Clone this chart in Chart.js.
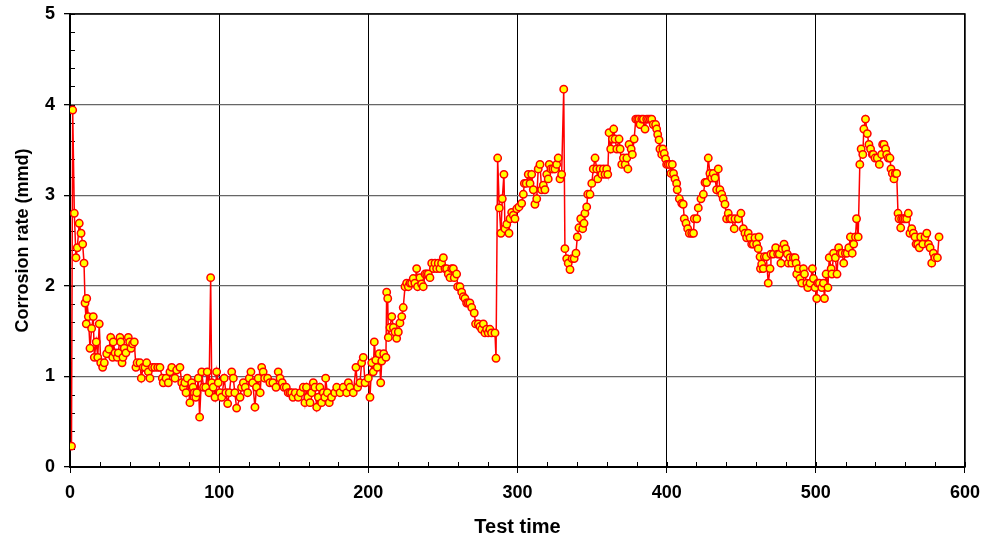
<!DOCTYPE html>
<html>
<head>
<meta charset="utf-8">
<script src="https://cdn.jsdelivr.net/npm/chart.js@4/dist/chart.umd.min.js"></script>
<style>
    html, body { margin: 0; padding: 0; background: #fff; }
    #wrap { width: 989px; height: 544px; }
</style>
</head>
<body>
<div id="wrap"><canvas id="corrosion-chart" width="989" height="544"></canvas></div>
<script>
// test time (x) and corrosion rate (y)
var testTime = [
    1.0, 1.8, 2.9, 4.0, 4.9, 6.2, 7.4, 8.5, 9.4, 10.1, 10.9, 11.2, 12.3, 13.4, 14.5, 15.6, 16.3, 17.6, 18.6, 19.6,
    20.6, 21.9, 23.0, 24.6, 26.1, 27.3, 28.6, 29.0, 30.2, 31.7, 32.4, 33.5, 34.0, 34.9, 35.5, 36.4, 37.5, 39.1, 40.0, 40.9,
    42.0, 43.1, 44.2, 45.0, 46.9, 47.8, 49.0, 50.3, 51.4, 52.5, 53.6, 55.2, 56.8, 58.8, 60.3, 61.9, 62.5, 64.4, 65.9, 67.0,
    68.2, 70.4, 71.5, 73.7, 74.9, 76.0, 77.0, 77.8, 78.6, 80.4, 81.6, 82.5, 83.3, 84.3, 85.0, 86.0, 86.9, 88.3, 89.5, 91.0,
    92.0, 93.2, 94.3, 95.0, 96.0, 97.2, 98.3, 99.4, 100.5, 101.7, 103.4, 104.5, 105.7, 106.8, 108.4, 109.5, 110.5, 111.7, 114.0, 115.0,
    116.2, 117.5, 119.1, 120.2, 121.3, 122.5, 124.0, 125.0, 126.2, 127.5, 128.5, 129.5, 130.5, 132.5, 134.0, 136.0, 138.1, 139.6, 140.8, 142.3,
    143.5, 145.0, 146.3, 147.5, 148.6, 149.5, 151.0, 153.0, 154.5, 156.4, 157.5, 158.5, 159.5, 160.9, 162.0, 163.1, 164.2, 165.4, 166.5, 167.5,
    168.7, 169.8, 170.8, 171.4, 172.5, 173.8, 175.3, 177.5, 178.8, 181.0, 183.2, 185.5, 186.6, 187.7, 189.9, 191.7, 192.8, 194.4, 195.5, 196.6,
    197.8, 200.0, 201.1, 202.3, 203.3, 204.0, 205.0, 206.0, 207.3, 208.3, 209.0, 210.3, 211.8, 212.3, 213.0, 213.4, 214.5, 215.7, 216.8, 217.9,
    219.0, 220.1, 221.2, 222.4, 223.4, 224.6, 225.7, 226.8, 227.9, 229.0, 230.1, 231.2, 232.4, 233.0, 234.6, 235.7, 236.8, 238.0, 239.1, 240.2,
    241.3, 242.5, 243.6, 244.7, 245.8, 246.9, 248.0, 249.1, 250.3, 251.4, 252.5, 253.6, 254.8, 255.9, 257.0, 257.6, 259.2, 259.9, 261.4, 262.6,
    263.7, 264.8, 265.9, 267.0, 268.1, 269.3, 271.0, 271.9, 273.7, 274.8, 276.0, 277.1, 278.2, 279.3, 280.4, 281.5, 282.6, 284.9, 285.6, 286.7,
    287.8, 288.9, 289.8, 290.9, 291.6, 292.8, 294.3, 295.0, 296.1, 297.2, 298.3, 299.5, 301.0, 302.8, 303.9, 304.6, 305.8, 307.2, 308.4, 309.5,
    310.6, 311.7, 312.9, 313.9, 315.1, 316.2, 317.3, 318.4, 319.6, 320.6, 321.3, 322.4, 323.7, 325.1, 326.3, 327.3, 328.5, 329.6, 331.0, 331.8,
    333.0, 334.0, 335.2, 336.6, 338.0, 339.2, 340.1, 341.2, 342.4, 343.7, 344.6, 345.2, 346.4, 347.1, 348.6, 349.8, 350.8, 352.0, 353.1, 353.8,
    355.3, 356.5, 357.6, 358.7, 359.8, 360.5, 361.4, 362.5, 363.6, 364.5, 365.4, 366.6, 368.1, 368.8, 369.9, 371.0, 372.2, 373.3, 374.0, 374.8,
    376.2, 377.0, 378.2, 379.3, 380.5, 381.5, 382.2, 383.3, 384.4, 385.5, 386.6, 387.8, 389.0, 390.0, 391.0, 392.6, 393.3, 394.0, 394.9, 395.5,
    396.7, 397.5, 398.4, 399.3, 400.0, 401.1, 402.2, 402.9, 403.8, 404.6, 405.6, 406.7, 407.1, 408.5, 410.1, 411.1, 411.8, 413.0, 414.1, 415.2,
    416.8, 418.0, 418.5, 420.2, 421.2, 423.0, 424.6, 425.7, 426.8, 427.9, 429.0, 430.2, 431.2, 432.4, 433.5, 434.6, 435.7, 436.9, 437.9, 439.1,
    440.2, 441.3, 442.4, 443.5, 445.3, 445.8, 448.0, 449.8, 451.4, 452.5, 453.6, 454.7, 455.9, 457.0, 458.1, 459.2, 460.3, 461.4, 461.9, 462.6,
    462.9, 463.7, 464.8, 465.5, 466.8, 468.1, 469.3, 469.9, 471.5, 473.1, 474.4, 475.5, 476.6, 477.5, 478.7, 479.8, 480.9, 481.6, 482.7, 483.9,
    484.9, 486.1, 486.8, 487.2, 488.3, 489.4, 490.6, 491.7, 492.4, 494.0, 494.6, 496.1, 497.7, 498.4, 499.5, 500.6, 501.3, 502.4, 504.0, 505.1,
    505.8, 506.9, 508.1, 509.0, 510.3, 510.8, 511.9, 513.1, 514.2, 515.3, 516.5, 517.6, 518.7, 519.8, 521.0, 522.1, 523.2, 524.4, 525.4, 526.6,
    527.3, 528.4, 529.5, 530.4, 531.5, 532.2, 533.3, 534.5, 535.6, 536.7, 537.9, 538.5, 539.7, 541.2, 542.6, 544.1, 544.8, 545.7, 546.8, 547.5,
    548.6, 549.7, 550.4, 551.3, 552.4, 553.3, 554.2, 555.1, 555.8, 556.9, 557.5, 558.6, 559.7, 560.9, 562.0, 563.1, 564.3, 565.4, 566.5, 567.2,
    568.3, 569.4, 570.3, 571.7, 573.2, 574.4, 575.5, 576.6, 577.7, 578.8, 579.9, 581.5, 582.6
];
var corrosionRate = [
    0.23, 3.94, 2.80, 2.31, 2.42, 2.69, 2.58, 2.46, 2.25, 1.81, 1.58, 1.86, 1.66, 1.31, 1.53, 1.66, 1.21, 1.38, 1.21, 1.58,
    1.15, 1.10, 1.15, 1.25, 1.30, 1.43, 1.21, 1.38, 1.26, 1.21, 1.26, 1.43, 1.38, 1.15, 1.21, 1.31, 1.26, 1.43, 1.38, 1.31,
    1.36, 1.38, 1.10, 1.15, 1.15, 0.98, 1.10, 1.10, 1.15, 1.05, 0.98, 1.10, 1.10, 1.10, 1.10, 0.98, 0.93, 0.98, 0.93, 1.05,
    1.10, 0.98, 1.07, 1.10, 0.93, 0.88, 0.93, 0.82, 0.98, 0.71, 0.93, 0.88, 0.82, 0.77, 0.82, 0.98, 0.55, 1.05, 0.88, 0.88,
    1.05, 0.82, 2.09, 0.93, 0.88, 0.77, 1.05, 0.93, 0.82, 0.77, 0.98, 0.82, 0.70, 0.82, 1.05, 0.98, 0.82, 0.65, 0.77, 0.88,
    0.93, 0.88, 0.82, 0.98, 1.05, 0.93, 0.66, 0.88, 0.98, 0.82, 1.10, 1.05, 0.98, 0.98, 0.93, 0.93, 0.88, 1.05, 0.98, 0.93,
    0.88, 0.88, 0.82, 0.82, 0.82, 0.77, 0.82, 0.77, 0.82, 0.88, 0.71, 0.88, 0.77, 0.71, 0.82, 0.93, 0.88, 0.66, 0.77, 0.88,
    0.71, 0.82, 0.77, 0.98, 0.82, 0.71, 0.77, 0.82, 0.88, 0.82, 0.88, 0.82, 0.93, 0.88, 0.82, 1.10, 0.88, 0.93, 1.15, 1.21,
    0.93, 0.98, 0.77, 1.15, 1.05, 1.38, 1.18, 1.10, 1.25, 0.93, 1.17, 1.25, 1.21, 1.93, 1.86, 1.43, 1.54, 1.66, 1.54, 1.49,
    1.42, 1.49, 1.59, 1.66, 1.76, 1.99, 2.03, 1.99, 2.03, 2.03, 2.08, 2.03, 2.19, 1.99, 2.09, 2.02, 1.99, 2.13, 2.13, 2.13,
    2.09, 2.25, 2.19, 2.25, 2.19, 2.25, 2.19, 2.25, 2.31, 2.19, 2.19, 2.13, 2.09, 2.19, 2.19, 2.09, 2.13, 1.99, 1.99, 1.93,
    1.88, 1.86, 1.81, 1.81, 1.81, 1.76, 1.70, 1.58, 1.58, 1.55, 1.52, 1.58, 1.48, 1.52, 1.48, 1.52, 1.48, 1.48, 1.20, 3.41,
    2.86, 2.58, 2.96, 3.23, 2.63, 2.68, 2.58, 2.74, 2.81, 2.78, 2.74, 2.85, 2.87, 2.91, 3.01, 3.13, 3.13, 3.23, 3.13, 3.23,
    3.06, 2.90, 2.96, 3.29, 3.34, 3.06, 3.11, 3.06, 3.23, 3.18, 3.34, 3.29, 3.29, 3.29, 3.34, 3.41, 3.18, 3.23, 4.17, 2.41,
    2.30, 2.25, 2.18, 2.30, 2.30, 2.36, 2.54, 2.64, 2.74, 2.63, 2.69, 2.80, 2.87, 3.01, 3.01, 3.13, 3.29, 3.41, 3.29, 3.18,
    3.29, 3.23, 3.29, 3.23, 3.29, 3.23, 3.69, 3.51, 3.62, 3.73, 3.62, 3.51, 3.62, 3.51, 3.34, 3.41, 3.34, 3.41, 3.29, 3.56,
    3.51, 3.45, 3.62, 3.84, 3.84, 3.84, 3.78, 3.84, 3.84, 3.73, 3.84, 3.84, 3.84, 3.84, 3.78, 3.78, 3.73, 3.67, 3.61, 3.51,
    3.45, 3.51, 3.46, 3.40, 3.34, 3.34, 3.34, 3.24, 3.34, 3.24, 3.18, 3.13, 3.06, 2.96, 2.91, 2.90, 2.74, 2.69, 2.63, 2.58,
    2.58, 2.58, 2.74, 2.74, 2.86, 2.96, 3.01, 3.14, 3.14, 3.41, 3.24, 3.19, 3.24, 3.19, 3.06, 3.29, 3.06, 3.01, 2.96, 2.90,
    2.74, 2.80, 2.74, 2.74, 2.63, 2.74, 2.74, 2.80, 2.63, 2.58, 2.53, 2.58, 2.53, 2.46, 2.46, 2.53, 2.46, 2.41, 2.54, 2.32,
    2.19, 2.24, 2.19, 2.32, 2.32, 2.03, 2.19, 2.35, 2.35, 2.42, 2.35, 2.35, 2.25, 2.41, 2.46, 2.41, 2.35, 2.25, 2.31, 2.25,
    2.31, 2.31, 2.25, 2.13, 2.19, 2.08, 2.03, 2.19, 2.13, 2.03, 1.98, 2.03, 2.19, 2.08, 1.98, 1.86, 2.03, 2.03, 1.98, 2.03,
    1.86, 2.13, 1.98, 2.31, 2.19, 2.13, 2.36, 2.31, 2.13, 2.42, 2.36, 2.36, 2.25, 2.36, 2.36, 2.42, 2.54, 2.36, 2.46, 2.54,
    2.74, 2.54, 3.34, 3.51, 3.45, 3.73, 3.84, 3.68, 3.56, 3.51, 3.45, 3.45, 3.41, 3.41, 3.34, 3.45, 3.56, 3.56, 3.51, 3.45,
    3.41, 3.41, 3.29, 3.24, 3.18, 3.24, 3.24, 2.80, 2.74, 2.64, 2.74, 2.74, 2.74, 2.74, 2.80, 2.58, 2.63, 2.58, 2.54, 2.46,
    2.46, 2.42, 2.54, 2.46, 2.54, 2.58, 2.46, 2.42, 2.25, 2.36, 2.31, 2.31, 2.54
];

// axis ticks
var xTickValues = [0, 100, 200, 300, 400, 500, 600];
var yTickValues = [0, 1, 2, 3, 4, 5];

var fontFamily = '"Liberation Sans", Arial, sans-serif';

var points = testTime.map(function(t, i) {
    return { x: t, y: corrosionRate[i] };
});

// minor ticks + outer frame
var minorTicks = {
    id: 'minorTicks',
    beforeDatasetsDraw: function(chart) {
        var ctx = chart.ctx;
        var area = chart.chartArea;
        var xs = chart.scales.x;
        var ys = chart.scales.y;
        ctx.save();
        ctx.strokeStyle = '#000';
        ctx.lineWidth = 1;
        for (var v = 0; v <= 50; v += 2) {
            var py = Math.round(ys.getPixelForValue(v / 10)) + 0.5;
            ctx.beginPath();
            ctx.moveTo(area.left, py);
            ctx.lineTo(area.left + 5, py);
            ctx.stroke();
        }
        for (var t = 0; t <= 600; t += 20) {
            var px = Math.round(xs.getPixelForValue(t)) + 0.5;
            ctx.beginPath();
            ctx.moveTo(px, area.bottom);
            ctx.lineTo(px, area.bottom - 5);
            ctx.stroke();
        }
        ctx.lineWidth = 1.5;
        ctx.strokeRect(area.left, area.top, area.right - area.left, area.bottom - area.top);
        ctx.restore();
    }
};

var ctx = document.getElementById('corrosion-chart').getContext('2d');
const corrosionChart = new Chart(ctx, {
    type: 'line',
    data: {
        datasets: [{
            data: points,
            borderColor: '#FF0000',
            borderWidth: 1.5,
            pointRadius: 3.7,
            pointBorderWidth: 1.5,
            pointBackgroundColor: '#FFFF00',
            pointBorderColor: '#FF0000',
            tension: 0
        }]
    },
    options: {
        responsive: false,
        animation: false,
        layout: {
            padding: { left: 0, right: 9, top: 2, bottom: 0 }
        },
        plugins: {
            legend: { display: false },
            tooltip: { enabled: false }
        },
        scales: {
            x: {
                type: 'linear',
                min: 0,
                max: 600,
                afterFit: function(scale) { scale.height = 77; },
                afterBuildTicks: function(scale) {
                    scale.ticks = xTickValues.map(function(v) { return { value: v }; });
                },
                grid: {
                    color: '#000',
                    lineWidth: 1,
                    tickLength: 6,
                    tickColor: '#000'
                },
                border: { color: '#000', width: 2 },
                ticks: {
                    color: '#000',
                    padding: 9,
                    maxRotation: 0,
                    font: { family: fontFamily, size: 18, weight: 'bold' }
                },
                title: {
                    display: true,
                    text: 'Test time',
                    color: '#000',
                    padding: { top: 0, bottom: 5 },
                    font: { family: fontFamily, size: 20, weight: 'bold' }
                }
            },
            y: {
                min: 0,
                max: 5,
                afterFit: function(scale) {
                    scale.width = 70;
                    scale.paddingTop = 14;
                },
                afterBuildTicks: function(scale) {
                    scale.ticks = yTickValues.map(function(v) { return { value: v }; });
                },
                grid: {
                    color: '#666',
                    lineWidth: 1.3,
                    tickLength: 6,
                    tickColor: '#000'
                },
                border: { color: '#000', width: 2 },
                ticks: {
                    color: '#000',
                    padding: 9,
                    font: { family: fontFamily, size: 18, weight: 'bold' }
                },
                title: {
                    display: true,
                    text: 'Corrosion rate (mmd)',
                    color: '#000',
                    padding: { top: 12, bottom: 0 },
                    font: { family: fontFamily, size: 18, weight: 'bold' }
                }
            }
        }
    },
    plugins: [minorTicks]
});
</script>
</body>
</html>
